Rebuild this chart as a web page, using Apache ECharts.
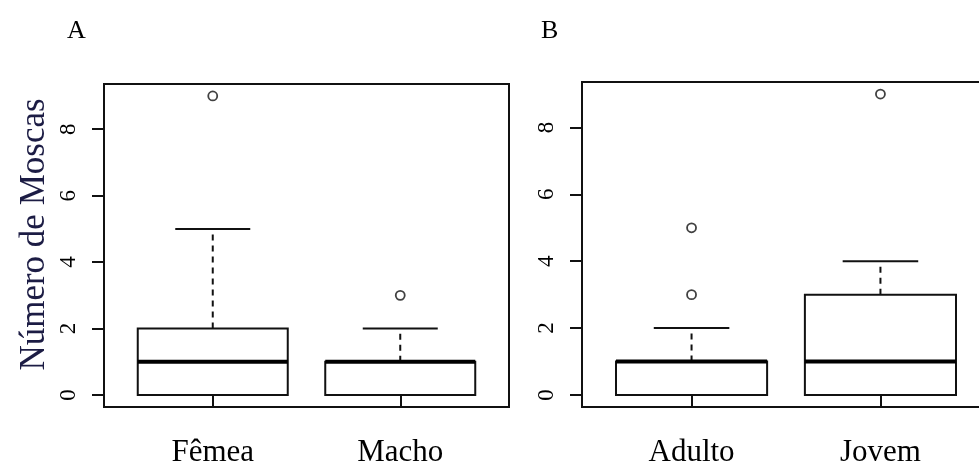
<!DOCTYPE html>
<html>
<head>
<meta charset="utf-8">
<script src="https://cdn.jsdelivr.net/npm/echarts@6/dist/echarts.min.js"></script>
<style>
  html, body { margin: 0; padding: 0; background: #fff; overflow: hidden; }
  #chart { width: 1000px; height: 468px; }
</style>
</head>
<body>
<div id="chart"></div>
<script>
// ---- data ----
const panelLabels = ['A', 'B'];
const yAxisTitle = 'Número de Moscas';
const yTicks = [0, 2, 4, 6, 8];

const sexCategories = ['Fêmea', 'Macho'];
// [min, Q1, median, Q3, max]
const sexStats = [[0, 0, 1, 2, 5], [0, 0, 1, 1, 2]];
const sexOutlierGroup = [1, 2];
const sexOutlierValue = [9, 3];

const ageCategories = ['Adulto', 'Jovem'];
const ageStats = [[0, 0, 1, 1, 2], [0, 0, 1, 3, 4]];
const ageOutlierGroup = [1, 1, 2];
const ageOutlierValue = [5, 3, 9];

// ---- chart ----
const FONT = '"Liberation Serif", "Times New Roman", serif';
const INK = '#111';

function boxData(stats) {
  return stats.map((s, i) => [i + 1].concat(s));
}
function outlierData(groups, values) {
  return groups.map((g, i) => [g, values[i]]);
}

function renderBox(params, api) {
  const x = api.value(0);
  const lo = api.value(1), q1 = api.value(2), med = api.value(3), q3 = api.value(4), hi = api.value(5);
  const p = (v) => api.coord([x, v]);
  const halfBox = api.size([0.4, 0])[0];
  const halfCap = api.size([0.2, 0])[0];
  const cx = p(med)[0];
  const yLo = p(lo)[1], yQ1 = p(q1)[1], yMed = p(med)[1], yQ3 = p(q3)[1], yHi = p(hi)[1];
  const children = [];
  const dashStyle = { stroke: INK, lineWidth: 2, lineDash: [6, 5] };
  const solid = { stroke: INK, lineWidth: 2 };
  if (hi > q3) {
    children.push({ type: 'line', shape: { x1: cx, y1: yQ3, x2: cx, y2: yHi }, style: dashStyle });
  }
  if (lo < q1) {
    children.push({ type: 'line', shape: { x1: cx, y1: yQ1, x2: cx, y2: yLo }, style: dashStyle });
  }
  children.push({ type: 'line', shape: { x1: cx - halfCap, y1: yHi, x2: cx + halfCap, y2: yHi }, style: solid });
  children.push({ type: 'line', shape: { x1: cx - halfCap, y1: yLo, x2: cx + halfCap, y2: yLo }, style: solid });
  children.push({ type: 'rect', shape: { x: cx - halfBox, y: yQ3, width: 2 * halfBox, height: yQ1 - yQ3 },
                  style: { fill: '#fff', stroke: INK, lineWidth: 2 } });
  children.push({ type: 'line', shape: { x1: cx - halfBox, y1: yMed, x2: cx + halfBox, y2: yMed },
                  style: { stroke: '#000', lineWidth: 4 } });
  return { type: 'group', children: children };
}

function xAxisFor(idx, cats) {
  return {
    type: 'value', gridIndex: idx, min: 0.42, max: 2.58,
    axisLine: { show: false },
    splitLine: { show: false },
    axisTick: { show: true, length: 12, customValues: [1, 2], lineStyle: { color: INK, width: 2 } },
    axisLabel: {
      customValues: [1, 2], margin: 30,
      formatter: (v) => cats[Math.round(v) - 1] || '',
      fontFamily: FONT, fontSize: 31, color: '#000'
    }
  };
}
function yAxisFor(idx, withName) {
  const ax = {
    type: 'value', gridIndex: idx, min: -0.36, max: 9.36,
    axisLine: { show: false },
    splitLine: { show: false },
    axisTick: { show: true, length: 12, customValues: yTicks, lineStyle: { color: INK, width: 2 } },
    axisLabel: {
      customValues: yTicks, rotate: 90, margin: 24,
      fontFamily: FONT, fontSize: 23, color: '#000'
    }
  };
  if (withName) {
    ax.name = yAxisTitle;
    ax.nameLocation = 'middle';
    ax.nameRotate = 90;
    ax.nameGap = 52;
    ax.nameTextStyle = { fontFamily: FONT, fontSize: 35, color: '#1c1c44', padding: [0, 0, 0, 22] };
  }
  return ax;
}

const option = {
  backgroundColor: '#fff',
  animation: false,
  title: [
    { text: panelLabels[0], left: 62, top: 13, textStyle: { fontFamily: FONT, fontSize: 26, fontWeight: 'normal', color: '#000' } },
    { text: panelLabels[1], left: 536, top: 13, textStyle: { fontFamily: FONT, fontSize: 26, fontWeight: 'normal', color: '#000' } }
  ],
  grid: [
    { left: 104, width: 405, top: 84, height: 325, show: true, borderColor: INK, borderWidth: 2, backgroundColor: 'transparent' },
    { left: 582, width: 408, top: 82, height: 327, show: true, borderColor: INK, borderWidth: 2, backgroundColor: 'transparent' }
  ],
  xAxis: [xAxisFor(0, sexCategories), xAxisFor(1, ageCategories)],
  yAxis: [yAxisFor(0, true), yAxisFor(1, false)],
  series: [
    { type: 'custom', xAxisIndex: 0, yAxisIndex: 0, data: boxData(sexStats), renderItem: renderBox,
      encode: { x: 0, y: [1, 2, 3, 4, 5] }, clip: false },
    { type: 'scatter', xAxisIndex: 0, yAxisIndex: 0, data: outlierData(sexOutlierGroup, sexOutlierValue),
      symbol: 'circle', symbolSize: 9, itemStyle: { color: '#fff', borderColor: INK, borderWidth: 1.8 } },
    { type: 'custom', xAxisIndex: 1, yAxisIndex: 1, data: boxData(ageStats), renderItem: renderBox,
      encode: { x: 0, y: [1, 2, 3, 4, 5] }, clip: false },
    { type: 'scatter', xAxisIndex: 1, yAxisIndex: 1, data: outlierData(ageOutlierGroup, ageOutlierValue),
      symbol: 'circle', symbolSize: 9, itemStyle: { color: '#fff', borderColor: INK, borderWidth: 1.8 } }
  ]
};

const chart = echarts.init(document.getElementById('chart'), null, { renderer: 'canvas' });
chart.setOption(option);
</script>
</body>
</html>
